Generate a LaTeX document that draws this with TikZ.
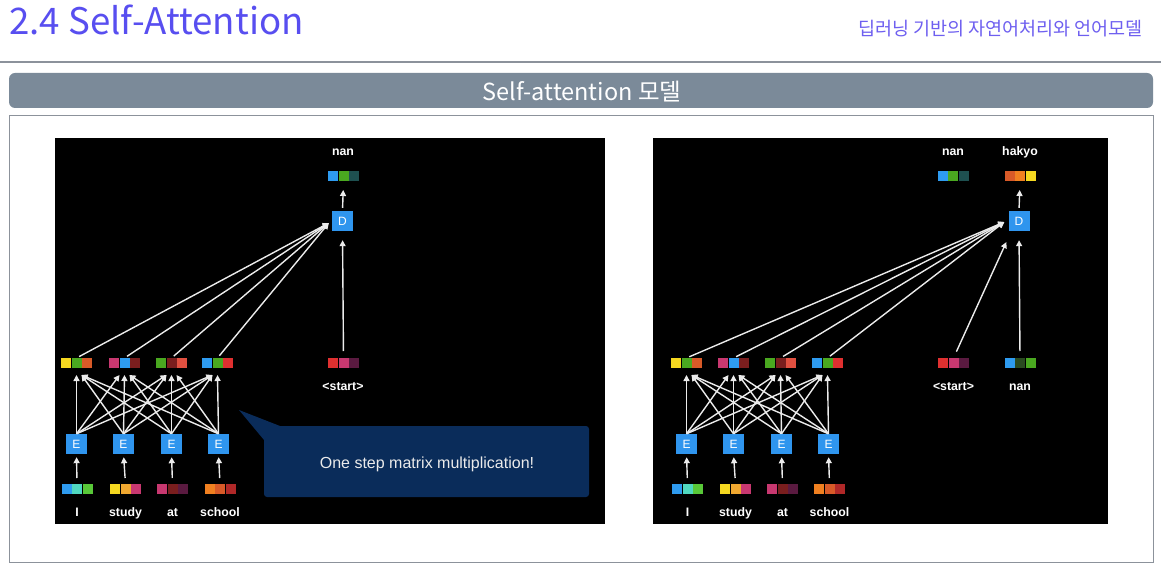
\documentclass[tikz,border=0pt]{standalone}
\usepackage{fontspec}
\setmainfont{Liberation Sans}
\newfontfamily\kr{Noto Sans CJK KR}
\usetikzlibrary{arrows.meta}
\definecolor{ttl}{RGB}{88,78,240}
\definecolor{krc}{RGB}{110,95,240}
\definecolor{rule}{RGB}{140,146,155}
\definecolor{bar}{RGB}{123,138,153}
\definecolor{navy}{RGB}{10,44,90}
\definecolor{eblue}{RGB}{47,149,238}
\definecolor{cblue}{RGB}{46,155,240}
\definecolor{cgreen}{RGB}{74,168,32}
\definecolor{cteal}{RGB}{30,80,80}
\definecolor{cyel}{RGB}{245,216,32}
\definecolor{corg}{RGB}{216,90,40}
\definecolor{cmag}{RGB}{200,56,112}
\definecolor{cdred}{RGB}{122,30,30}
\definecolor{cred}{RGB}{224,48,48}
\definecolor{cred2}{RGB}{224,80,64}
\definecolor{cpur}{RGB}{90,26,64}
\definecolor{ccyan}{RGB}{80,216,192}
\definecolor{clgreen}{RGB}{88,200,56}
\definecolor{cyorg}{RGB}{240,168,48}
\definecolor{corg2}{RGB}{240,128,32}
\definecolor{cbrick}{RGB}{176,40,40}
\definecolor{cdgreen}{RGB}{42,74,32}
\newcommand{\tvec}[5]{%
  \node[vecbox] (#1) at #2 {};
  \fill[#3] (#1.south west) rectangle ++(10pt,10pt);
  \fill[#4] ([xshift=10.5pt]#1.south west) rectangle ++(10pt,10pt);
  \fill[#5] ([xshift=21pt]#1.south west) rectangle ++(10pt,10pt);
}
\begin{document}
\begin{tikzpicture}[x=1pt,y=-1pt,
  vecbox/.style={minimum width=31pt,minimum height=10pt,inner sep=0pt,outer sep=0pt},
  ebox/.style={fill=eblue,minimum width=21pt,minimum height=20pt,inner sep=0pt,text=white,font=\fontsize{12}{14}\selectfont},
  lbl/.style={text=white,font=\bfseries\fontsize{12.3}{14}\selectfont,anchor=base,inner sep=0pt},
  arr/.style={draw=white!92!black,line width=1.4pt,-{Triangle[length=6pt,width=6pt]}},
  ln/.style={draw=white,line width=1.4pt}]
\useasboundingbox (0,0) rectangle (1161,569);
\fill[white] (0,0) rectangle (1161,569);
% header
\node[anchor=base west,inner sep=0pt,text=ttl,font=\kr\fontsize{36.6}{40}\selectfont] (title) at (9,35) {2.4 Self-Attention};
\node[anchor=base east,inner sep=0pt,text=krc,font=\kr\fontsize{18.5}{22}\selectfont] (subtitle) at (1143,36) {딥러닝 기반의 자연어처리와 언어모델};
\draw[rule,line width=2pt] (0,62) -- (1161,62);
% title bar
\node[fill=bar,rounded corners=6pt,minimum width=1144pt,minimum height=35pt,inner sep=0pt] (barbox) at (581,90.5) {};
\node[anchor=base,inner sep=0pt,text=white,font=\kr\fontsize{23.5}{26}\selectfont] (bartext) at (582,100.5) {Self-attention 모델};
\draw[rule,line width=1pt] (9,116) rectangle (1153,562);
% panels
\fill[black] (55,138) rectangle (605,524);
\fill[black] (653,138) rectangle (1108,524);

% ================= LEFT PANEL =================
\tvec{LI1}{(77,489)}{cblue}{ccyan}{clgreen}
\tvec{LI2}{(125.5,489)}{cyel}{cyorg}{cmag}
\tvec{LI3}{(172.5,489)}{cmag}{cdred}{cpur}
\tvec{LI4}{(220,489)}{corg2}{corg}{cbrick}
\node[lbl] (LT1) at (77,516) {I};
\node[lbl] (LT2) at (125.5,516) {study};
\node[lbl] (LT3) at (172.5,516) {at};
\node[lbl] (LT4) at (220,516) {school};
\node[ebox] (LE1) at (76.5,444) {E};
\node[ebox] (LE2) at (123.5,444) {E};
\node[ebox] (LE3) at (171.5,444) {E};
\node[ebox] (LE4) at (218.5,444) {E};
\tvec{Lh1}{(76.5,363)}{cyel}{cgreen}{corg}
\tvec{Lh2}{(124.5,363)}{cmag}{cblue}{cdred}
\tvec{Lh3}{(171.5,363)}{cgreen}{cdred}{cred2}
\tvec{Lh4}{(217.5,363)}{cblue}{cgreen}{cred}
\node[ebox] (LD) at (342.5,221) {D};
\tvec{Lout}{(343.5,176)}{cblue}{cgreen}{cteal}
\node[lbl] (Lnan) at (343,156) {nan};
\tvec{Ls}{(343.5,363)}{cred}{cmag}{cpur}
\node[lbl] (Lst) at (343,390) {<start>};
\coordinate (LDin) at ([xshift=-3pt,yshift=-2pt]LD.west);
\foreach \i in {1,...,4}{
  \draw[arr,shorten <=6pt,shorten >=3pt] (LI\i.north) -- (LE\i.south);
  \draw[arr,shorten <=3pt] (Lh\i.north) -- (LDin);
  \foreach \j in {1,...,4}{
    \pgfmathsetmacro\off{5*sign(\i-\j)}
    \draw[arr] (LE\i.north) -- ([xshift=\off pt,yshift=-7pt]Lh\j.south);
  }
}
\draw[arr,shorten <=7pt,shorten >=9pt] (Ls.north) -- (LD.south);
\draw[arr,shorten <=3pt,shorten >=9pt] (LD.north) -- (Lout.south);
% callout
\fill[navy] (239,410) -- (280,426) -- (264,440) -- cycle;
\node[fill=navy,rounded corners=3pt,minimum width=325pt,minimum height=71pt,inner sep=0pt] (call) at (426.5,461.5) {};
\node[anchor=base,inner sep=0pt,text=white!92!black,font=\fontsize{16}{19}\selectfont] (calltext) at (427,468) {One step matrix multiplication!};

% ================= RIGHT PANEL =================
\tvec{RI1}{(687.5,489)}{cblue}{ccyan}{clgreen}
\tvec{RI2}{(735.5,489)}{cyel}{cyorg}{cmag}
\tvec{RI3}{(782.5,489)}{cmag}{cdred}{cpur}
\tvec{RI4}{(829.5,489)}{corg2}{corg}{cbrick}
\node[lbl] (RT1) at (687.5,516) {I};
\node[lbl] (RT2) at (735.5,516) {study};
\node[lbl] (RT3) at (782.5,516) {at};
\node[lbl] (RT4) at (829.5,516) {school};
\node[ebox] (RE1) at (686.5,444) {E};
\node[ebox] (RE2) at (733.5,444) {E};
\node[ebox] (RE3) at (781.5,444) {E};
\node[ebox] (RE4) at (828.5,444) {E};
\tvec{Rh1}{(686.5,363)}{cyel}{cgreen}{corg}
\tvec{Rh2}{(733.5,363)}{cmag}{cblue}{cdred}
\tvec{Rh3}{(780.5,363)}{cgreen}{cdred}{cred2}
\tvec{Rh4}{(827.5,363)}{cblue}{cgreen}{cred}
\node[ebox] (RD) at (1019,221) {D};
\tvec{Rout1}{(953,176)}{cblue}{cgreen}{cteal}
\tvec{Rout2}{(1020,176)}{corg}{corg2}{cyel}
\node[lbl] (Rnan) at (953,156) {nan};
\node[lbl] (Rhak) at (1020,156) {hakyo};
\tvec{Rs}{(953.5,363)}{cred}{cmag}{cpur}
\tvec{Rn}{(1020,363)}{cblue}{cdgreen}{cgreen}
\node[lbl] (Rst) at (953.5,390) {<start>};
\node[lbl] (Rnl) at (1020,390) {nan};
\coordinate (RDin) at ([xshift=-4pt,yshift=-1pt]RD.west);
\foreach \i in {1,...,4}{
  \draw[arr,shorten <=6pt,shorten >=3pt] (RI\i.north) -- (RE\i.south);
  \draw[arr,shorten <=3pt] (Rh\i.north) -- (RDin);
  \foreach \j in {1,...,4}{
    \pgfmathsetmacro\off{5*sign(\i-\j)}
    \draw[arr] (RE\i.north) -- ([xshift=\off pt,yshift=-7pt]Rh\j.south);
  }
}
\draw[arr,shorten <=7pt,shorten >=12pt] (Rs.north) -- ([xshift=3pt]RD.south west);
\draw[arr,shorten <=7pt,shorten >=9pt] (Rn.north) -- (RD.south);
\draw[arr,shorten <=3pt,shorten >=9pt] (RD.north) -- (Rout2.south);
\end{tikzpicture}
\end{document}
